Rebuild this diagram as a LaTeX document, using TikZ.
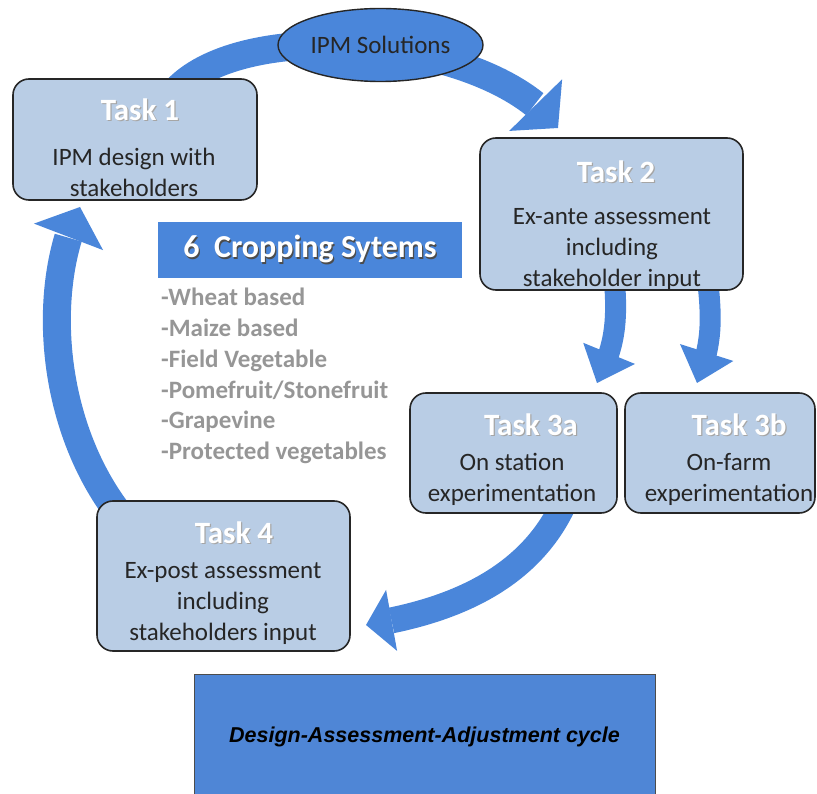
\documentclass[tikz,border=0pt]{standalone}
\usepackage{fontspec}
\setmainfont{Carlito}
\newfontfamily\arialfont{Liberation Sans}
\usetikzlibrary{arrows.meta,bending,shapes.geometric,calc}
\definecolor{arrowblue}{RGB}{74,134,218}
\definecolor{boxblue}{RGB}{185,205,229}
\definecolor{listgrey}{RGB}{150,150,150}
\definecolor{cycleblue}{RGB}{79,134,214}
\newcommand\shtext[2]{\leavevmode\rlap{\kern1.2pt\raisebox{-1.2pt}{\textcolor{#1}{#2}}}#2}
\pgfdeclarelayer{bg}
\pgfsetlayers{bg,main}
\begin{document}
\begin{tikzpicture}[x=1pt,y=-1pt,
  taskbox/.style={draw=black!85, line width=1.6pt, fill=boxblue, rounded corners=16pt, inner sep=0pt},
  heading/.style={text=white, font=\fontsize{31}{36}\selectfont\bfseries, inner sep=0pt},
  bodytext/.style={align=center, font=\fontsize{25}{31}\selectfont, inner sep=0pt, text=black!85},
  bigflow/.style={draw=arrowblue, line width=28pt, -{Triangle[width=74pt,length=32pt,line width=0pt]}},
  smallflow/.style={draw=arrowblue, line width=21pt, -{Triangle[width=56pt,length=32pt,line width=0pt]}},
  midflow/.style={draw=arrowblue, line width=26pt, -{Triangle[width=62pt,length=26pt,line width=0pt]}}
]
\useasboundingbox (0,0) rectangle (817,794);

% nodes
\node[ellipse, draw=black!85, line width=1.4pt, fill=arrowblue, minimum width=205pt, minimum height=73pt, inner sep=0pt,
      font=\fontsize{25}{30}\selectfont, text=black!85] (ipm) at (380.5,45) {IPM Solutions};

\node[taskbox, minimum width=244pt, minimum height=121pt] (t1) at (135,139.5) {};
\node[heading] (t1h) at (140,110) {\shtext{black!35}{Task 1}};
\node[bodytext] (t1b) at (134,172) {IPM design with\\stakeholders};

\node[taskbox, minimum width=263pt, minimum height=152pt] (t2) at (611.5,214) {};
\node[heading] (t2h) at (616,172) {\shtext{black!35}{Task 2}};
\node[bodytext] (t2b) at (612,249) {Ex-ante assessment\\including\\stakeholder input};

\node[taskbox, minimum width=207pt, minimum height=120pt] (t3a) at (513.5,453) {};
\node[heading] (t3ah) at (531,425) {\shtext{black!35}{Task 3a}};
\node[bodytext] (t3ab) at (512,479) {On station\\experimentation};

\node[taskbox, minimum width=190pt, minimum height=120pt] (t3b) at (720,453) {};
\node[heading] (t3bh) at (739,425) {\shtext{black!35}{Task 3b}};
\node[bodytext] (t3bb) at (729,479) {On-farm\\experimentation};

\node[taskbox, minimum width=253pt, minimum height=150pt] (t4) at (223.5,576) {};
\node[heading] (t4h) at (234,533) {\shtext{black!35}{Task 4}};
\node[bodytext] (t4b) at (223,603) {Ex-post assessment\\including\\stakeholders input};

\node[fill=arrowblue, minimum width=304pt, minimum height=56pt, inner sep=0pt, text=white,
      font=\fontsize{32}{36}\selectfont\bfseries] (crop) at (310,250) {\shtext{black!70}{6\ \ Cropping Sytems}};

\node[anchor=west, align=left, inner sep=0pt, text=listgrey, font=\fontsize{25}{30.8}\selectfont\bfseries] (list) at (161,376)
  {-Wheat based\\-Maize based\\-Field Vegetable\\-Pomefruit/Stonefruit\\-Grapevine\\-Protected vegetables};

\node[draw=black!70, line width=0.8pt, fill=cycleblue, minimum width=461pt, minimum height=126pt, inner sep=0pt,
      font=\arialfont\fontsize{21.5}{26}\selectfont\bfseries\itshape, text=black] (cyc) at (424.5,737)
  {Design-Assessment-Adjustment cycle};

% free ends of the connectors
\coordinate (tip2) at (558,128);
\coordinate (tip1) at (80,207);
\coordinate (tip3a) at (597,383);
\coordinate (tip3b) at (697,383);
\coordinate (tip4) at (366,625);

\begin{pgfonlayer}{bg}
\draw[bigflow] ($(t1.north)+(37,17)$) .. controls (235,15) and (490,35) .. (tip2);
\draw[bigflow] ($(t4.north west)+(28,20)$) .. controls (50,430) and (40,290) .. (tip1);
\draw[smallflow] ($(t2.south)+(2.5,-15)$) .. controls (619,330) and (612,350) .. (tip3a);
\draw[smallflow] ($(t2.south)+(95.5,-15)$) .. controls (714,330) and (709,350) .. (tip3b);
\draw[midflow] ($(t3a.south)+(51.5,-13)$) .. controls (530,580) and (450,612) .. (tip4);
\end{pgfonlayer}
\end{tikzpicture}
\end{document}
